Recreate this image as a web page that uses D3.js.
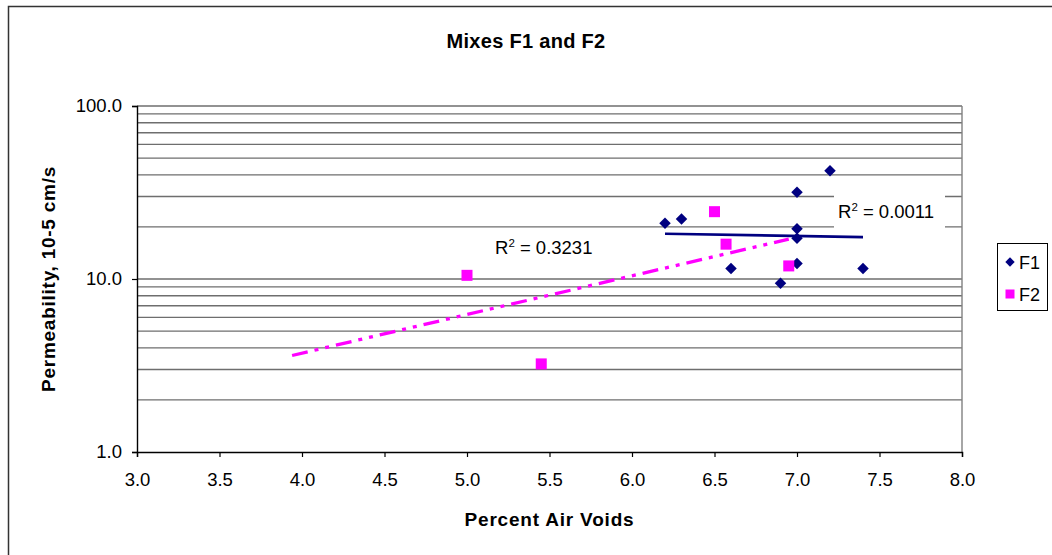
<!DOCTYPE html>
<html><head><meta charset="utf-8">
<script src="https://cdn.jsdelivr.net/npm/d3@7"></script>
<style>body{margin:0;background:#fff;}svg{display:block;font-family:"Liberation Sans",Arial,sans-serif;}</style>
</head><body>
<svg id="chart" width="1052" height="555"></svg>
<script>
// ---- data ----
const title = "Mixes F1 and F2";
const xTitle = "Percent Air Voids";
const yTitle = "Permeability, 10-5 cm/s";
const seriesNames = ["F1", "F2"];
const f1X = [6.2, 6.3, 6.6, 6.9, 7.0, 7.0, 7.0, 7.0, 7.2, 7.4];
const f1Y = [21.0, 22.2, 11.5, 9.45, 31.7, 19.5, 17.2, 12.3, 42.3, 11.5];
const f2X = [5.0, 5.45, 6.5, 6.57, 6.95];
const f2Y = [10.5, 3.23, 24.5, 15.9, 11.9];
const xTicks = [3.0, 3.5, 4.0, 4.5, 5.0, 5.5, 6.0, 6.5, 7.0, 7.5, 8.0];
const yTicks = [1, 10, 100];
const f1TrendRange = [6.2, 7.4];
const f2TrendRange = [3.94, 6.95];
const r2Labels = ["0.0011", "0.3231"];

// ---- layout ----
const W = 1052, H = 555;
const L = 137, R = 962, T = 106, B = 452;
const FONT = "'Liberation Sans',Arial,sans-serif";
const svg = d3.select("#chart");
svg.append("rect").attr("width", W).attr("height", H).attr("fill", "#fff");
svg.append("rect").attr("x", 8.5).attr("y", 6.5).attr("width", 1100).attr("height", 600)
  .attr("fill", "none").attr("stroke", "#333").attr("stroke-width", 1.5);

const x = d3.scaleLinear().domain([3, 8]).range([L, R]);
const y = d3.scaleLog().domain([1, 100]).range([B, T]);

// gridlines (log minor + major)
const gridVals = [];
for (let d = 1; d < 100; d *= 10) for (let k = 2; k <= 10; k++) gridVals.push(d * k);
svg.append("g").selectAll("line").data(gridVals).join("line")
  .attr("x1", L).attr("x2", R)
  .attr("y1", d => y(d)).attr("y2", d => y(d))
  .attr("stroke", "#6e6e6e").attr("stroke-width", 1.4);

// plot frame right side
svg.append("line").attr("x1", R).attr("x2", R).attr("y1", T).attr("y2", B)
  .attr("stroke", "#808080").attr("stroke-width", 1.4);

// axes
const xAxis = d3.axisBottom(x).tickValues(xTicks).tickFormat(d3.format(".1f")).tickSizeOuter(0).tickSize(5).tickPadding(16);
const gx = svg.append("g").attr("transform", `translate(0,${B})`).call(xAxis);
const yAxis = d3.axisLeft(y).tickValues(yTicks).tickFormat(d3.format(".1f")).tickSizeOuter(0).tickSize(5).tickPadding(10);
const gy = svg.append("g").attr("transform", `translate(${L},0)`).call(yAxis);
[gx, gy].forEach(g => {
  g.select(".domain").attr("stroke", "#000").attr("stroke-width", 1.4);
  g.selectAll(".tick line").attr("stroke", "#000").attr("stroke-width", 1.2);
  g.selectAll(".tick text").attr("fill", "#000").style("font-size", "18.5px").style("font-family", FONT);
});

// trendlines (exponential fit computed from the data)
function expFit(xs, ys) {
  const n = xs.length, ly = ys.map(Math.log);
  const mx = d3.mean(xs), my = d3.mean(ly);
  let sxy = 0, sxx = 0;
  for (let i = 0; i < n; i++) { sxy += (xs[i] - mx) * (ly[i] - my); sxx += (xs[i] - mx) ** 2; }
  const b = sxy / sxx, a = my - b * mx;
  return xv => Math.exp(a + b * xv);
}
const fit1 = expFit(f1X, f1Y), fit2 = expFit(f2X, f2Y);
const line = d3.line().x(d => x(d[0])).y(d => y(d[1]));
svg.append("path").datum(f1TrendRange.map(v => [v, fit1(v)])).attr("d", line)
  .attr("fill", "none").attr("stroke", "#000080").attr("stroke-width", 2.7);
svg.append("path").datum(f2TrendRange.map(v => [v, fit2(v)])).attr("d", line)
  .attr("fill", "none").attr("stroke", "#FF00FF").attr("stroke-width", 3.3)
  .attr("stroke-dasharray", "16,7,4,7,4,7");

// R² labels
function r2(xp, yp, val, box) {
  const g = svg.append("g");
  if (box) g.append("rect").attr("x", box[0]).attr("y", box[1]).attr("width", box[2]).attr("height", box[3]).attr("fill", "#fff");
  const t = g.append("text").attr("x", xp).attr("y", yp).style("font-size", "18.5px").attr("fill", "#000");
  t.append("tspan").text("R");
  t.append("tspan").text("2").style("font-size", "11.5px").attr("dy", -7);
  t.append("tspan").text(" = " + val).attr("dy", 7);
}
r2(838, 218, r2Labels[0], [834, 189, 111, 43]);
r2(495, 254, r2Labels[1], null);

// markers
svg.append("g").selectAll("path").data(f1X.map((v, i) => [v, f1Y[i]])).join("path")
  .attr("d", d3.symbol().type(d3.symbolSquare).size(66))
  .attr("transform", d => `translate(${x(d[0])},${y(d[1])}) rotate(45)`)
  .attr("fill", "#000080");
svg.append("g").selectAll("rect").data(f2X.map((v, i) => [v, f2Y[i]])).join("rect")
  .attr("x", d => x(d[0]) - 5.5).attr("y", d => y(d[1]) - 5.5).attr("width", 11).attr("height", 11)
  .attr("fill", "#FF00FF");

// titles
svg.append("text").attr("x", 526).attr("y", 48).attr("text-anchor", "middle")
  .style("font-size", "20px").style("font-weight", "bold").style("letter-spacing", "0.3px").text(title);
svg.append("text").attr("x", (L + R) / 2).attr("y", 526).attr("text-anchor", "middle")
  .style("font-size", "19px").style("font-weight", "bold").style("letter-spacing", "0.8px").text(xTitle);
svg.append("text").attr("transform", `translate(55,${(T + B) / 2}) rotate(-90)`).attr("text-anchor", "middle")
  .style("font-size", "19px").style("font-weight", "bold").style("letter-spacing", "0.75px").text(yTitle);

// legend
const lg = svg.append("g");
lg.append("rect").attr("x", 997.5).attr("y", 243.5).attr("width", 50).attr("height", 67)
  .attr("fill", "#fff").attr("stroke", "#000").attr("stroke-width", 1);
const lgItems = [
  {name: seriesNames[0], color: "#000080", shape: "diamond", cy: 262},
  {name: seriesNames[1], color: "#FF00FF", shape: "square", cy: 294}
];
lgItems.forEach(it => {
  if (it.shape === "diamond") {
    lg.append("path").attr("d", d3.symbol().type(d3.symbolSquare).size(44)())
      .attr("transform", `translate(1010,${it.cy}) rotate(45)`).attr("fill", it.color);
  } else {
    lg.append("rect").attr("x", 1005.5).attr("y", it.cy - 4.5).attr("width", 9).attr("height", 9).attr("fill", it.color);
  }
  lg.append("text").attr("x", 1019).attr("y", it.cy + 6.5).style("font-size", "18px").text(it.name);
});
</script>
</body></html>
